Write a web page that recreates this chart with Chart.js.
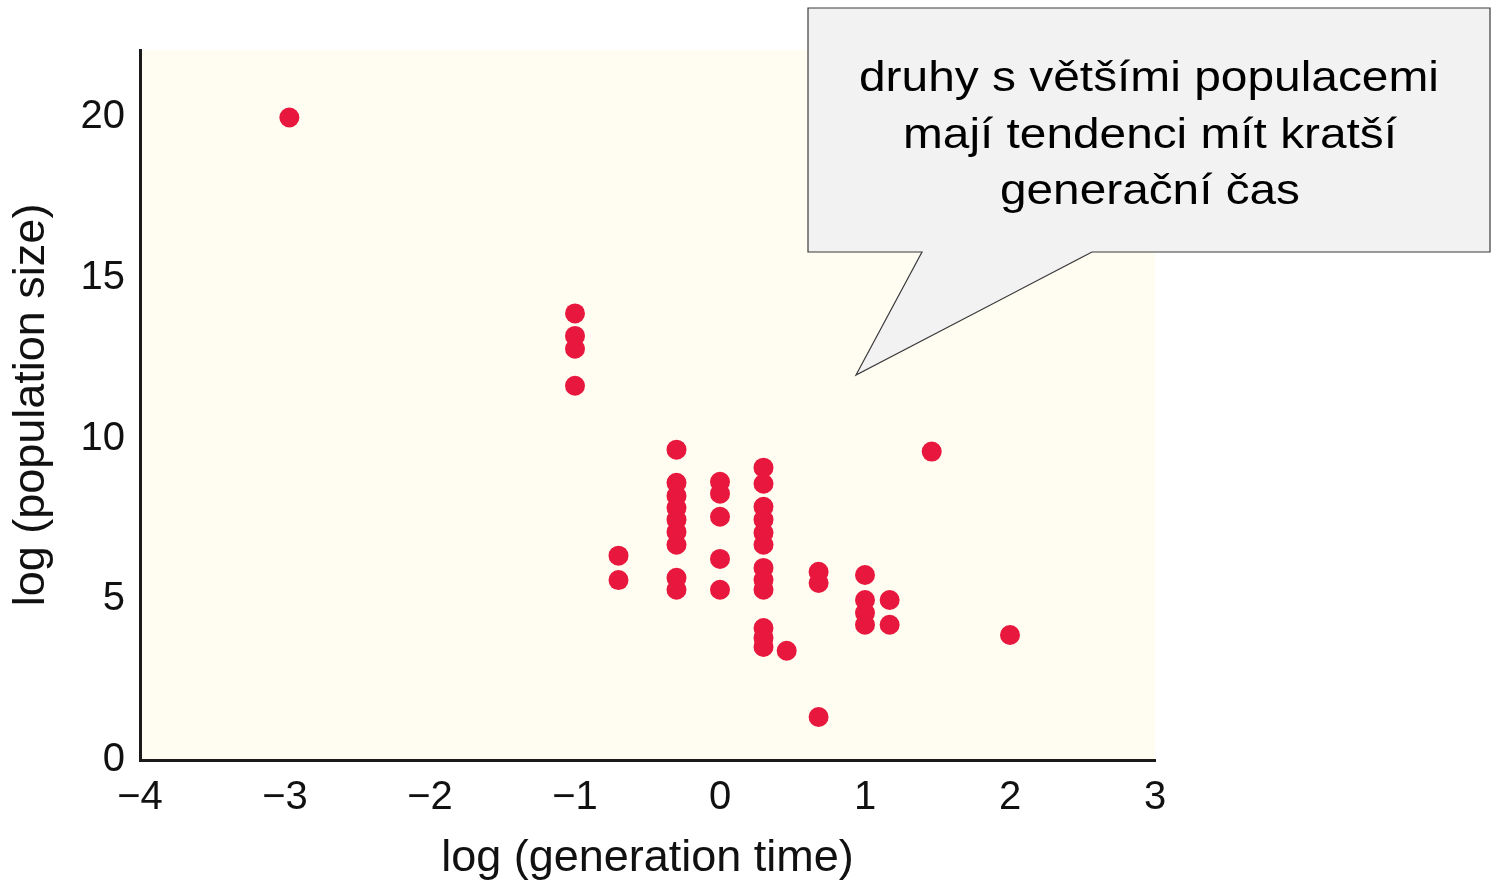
<!DOCTYPE html>
<html>
<head>
<meta charset="utf-8">
<script src="https://cdn.jsdelivr.net/npm/chart.js@4.4.1/dist/chart.umd.min.js"></script>
<style>
	html, body { margin: 0; padding: 0; background: #fff; }
	#wrap { position: relative; width: 1492px; height: 882px; }
	#chart { position: absolute; left: 0; top: 0; }
	#callout { position: absolute; left: 0; top: 0; }
</style>
</head>
<body>
<div id="wrap">
	<canvas id="chart" width="1492" height="882"></canvas>
	<svg id="callout" width="1492" height="882" xmlns="http://www.w3.org/2000/svg">
		<polygon points="808,8 1490,8 1490,252 1092,252 856,375 922,252 808,252"
			fill="#f2f2f2" stroke="#3a3a3a" stroke-width="1.2"/>
		<g font-family="Liberation Sans, Arial, sans-serif" font-size="43" fill="#000" text-anchor="middle">
			<text x="1149" y="91" textLength="580" lengthAdjust="spacingAndGlyphs">druhy s většími populacemi</text>
			<text x="1150" y="148" textLength="494" lengthAdjust="spacingAndGlyphs">mají tendenci mít kratší</text>
			<text x="1150" y="204" textLength="300" lengthAdjust="spacingAndGlyphs">generační čas</text>
		</g>
	</svg>
</div>
<script>
// axis ticks
var xTicks = [-4, -3, -2, -1, 0, 1, 2, 3];
var yTicks = [0, 5, 10, 15, 20];

// log (generation time) and log (population size)
var logGenTime = [
	-2.97,
	-1, -1, -1, -1,
	-0.7, -0.7,
	-0.3, -0.3, -0.3, -0.3, -0.3, -0.3, -0.3, -0.3, -0.3,
	0, 0, 0, 0, 0,
	0.3, 0.3, 0.3, 0.3, 0.3, 0.3, 0.3, 0.3, 0.3, 0.3, 0.3, 0.3,
	0.46,
	0.68, 0.68, 0.68,
	1, 1, 1, 1,
	1.17, 1.17,
	1.46,
	2
];
var logPopSize = [
	20,
	13.9, 13.2, 12.8, 11.65,
	6.36, 5.6,
	9.66, 8.63, 8.22, 7.85, 7.48, 7.1, 6.7, 5.67, 5.3,
	8.66, 8.29, 7.57, 6.26, 5.3,
	9.1, 8.6, 7.88, 7.48, 7.07, 6.7, 5.98, 5.61, 5.3, 4.11, 3.8, 3.52,
	3.4,
	5.86, 5.51, 1.34,
	5.76, 4.98, 4.58, 4.21,
	4.98, 4.21,
	9.6,
	3.89
];

var points = [];
for (var i = 0; i < logGenTime.length; i++) {
	points.push({ x: logGenTime[i], y: logPopSize[i] });
}

var paper = {
	id: "paper",
	beforeDraw: function(chart) {
		var a = chart.chartArea;
		var c = chart.ctx;
		c.save();
		c.fillStyle = "#fffdf2";
		c.fillRect(a.left, a.top, a.right - a.left, a.bottom - a.top);
		c.restore();
	}
};

var fontFam = "'Liberation Sans', Arial, Helvetica, sans-serif";

var ctx = document.getElementById("chart");

var chart = new Chart(ctx, {
	type : "scatter",
	data : {
		datasets: [
			{
				label : "druhy",
				data : points,
				backgroundColor : "#e8173d",
				borderWidth : 0,
				pointRadius : 10,
				pointHoverRadius : 10
			}
		]
	},
	options : {
		responsive : false,
		animation : false,
		layout : { padding : { top: 50, right: 337, bottom: 0, left: 0 } },
		plugins : {
			legend : { display : false },
			tooltip : { enabled : false }
		},
		scales : {
			x : {
				type : "linear",
				min : -4,
				max : 3,
				afterBuildTicks : function(scale) {
					scale.ticks = xTicks.map(function(v) { return { value: v }; });
				},
				afterFit : function(scale) { scale.height = 122; },
				grid : { display : false, drawTicks : false },
				border : { display : true, color : "#1a1a1a", width : 3 },
				ticks : {
					padding : 14,
					color : "#111",
					font : { family : fontFam, size : 40 },
					callback : function(v) { return String(v).replace("-", "\u2212"); }
				},
				title : {
					display : true,
					text : "log (generation time)",
					color : "#111",
					font : { family : fontFam, size : 45, lineHeight : 1 },
					padding : { top : 0, bottom : 0.5 }
				}
			},
			y : {
				type : "linear",
				min : 0,
				max : 22.1,
				afterBuildTicks : function(scale) {
					scale.ticks = yTicks.map(function(v) { return { value: v }; });
				},
				afterFit : function(scale) { scale.width = 140; },
				grid : { display : false, drawTicks : false },
				border : { display : true, color : "#1a1a1a", width : 3 },
				ticks : {
					padding : 15,
					color : "#111",
					font : { family : fontFam, size : 40 }
				},
				title : {
					display : true,
					text : "log (population size)",
					color : "#111",
					font : { family : fontFam, size : 45, lineHeight : 1 },
					padding : { top : 9, bottom : 0 }
				}
			}
		}
	},
	plugins : [paper]
});
</script>
</body>
</html>
